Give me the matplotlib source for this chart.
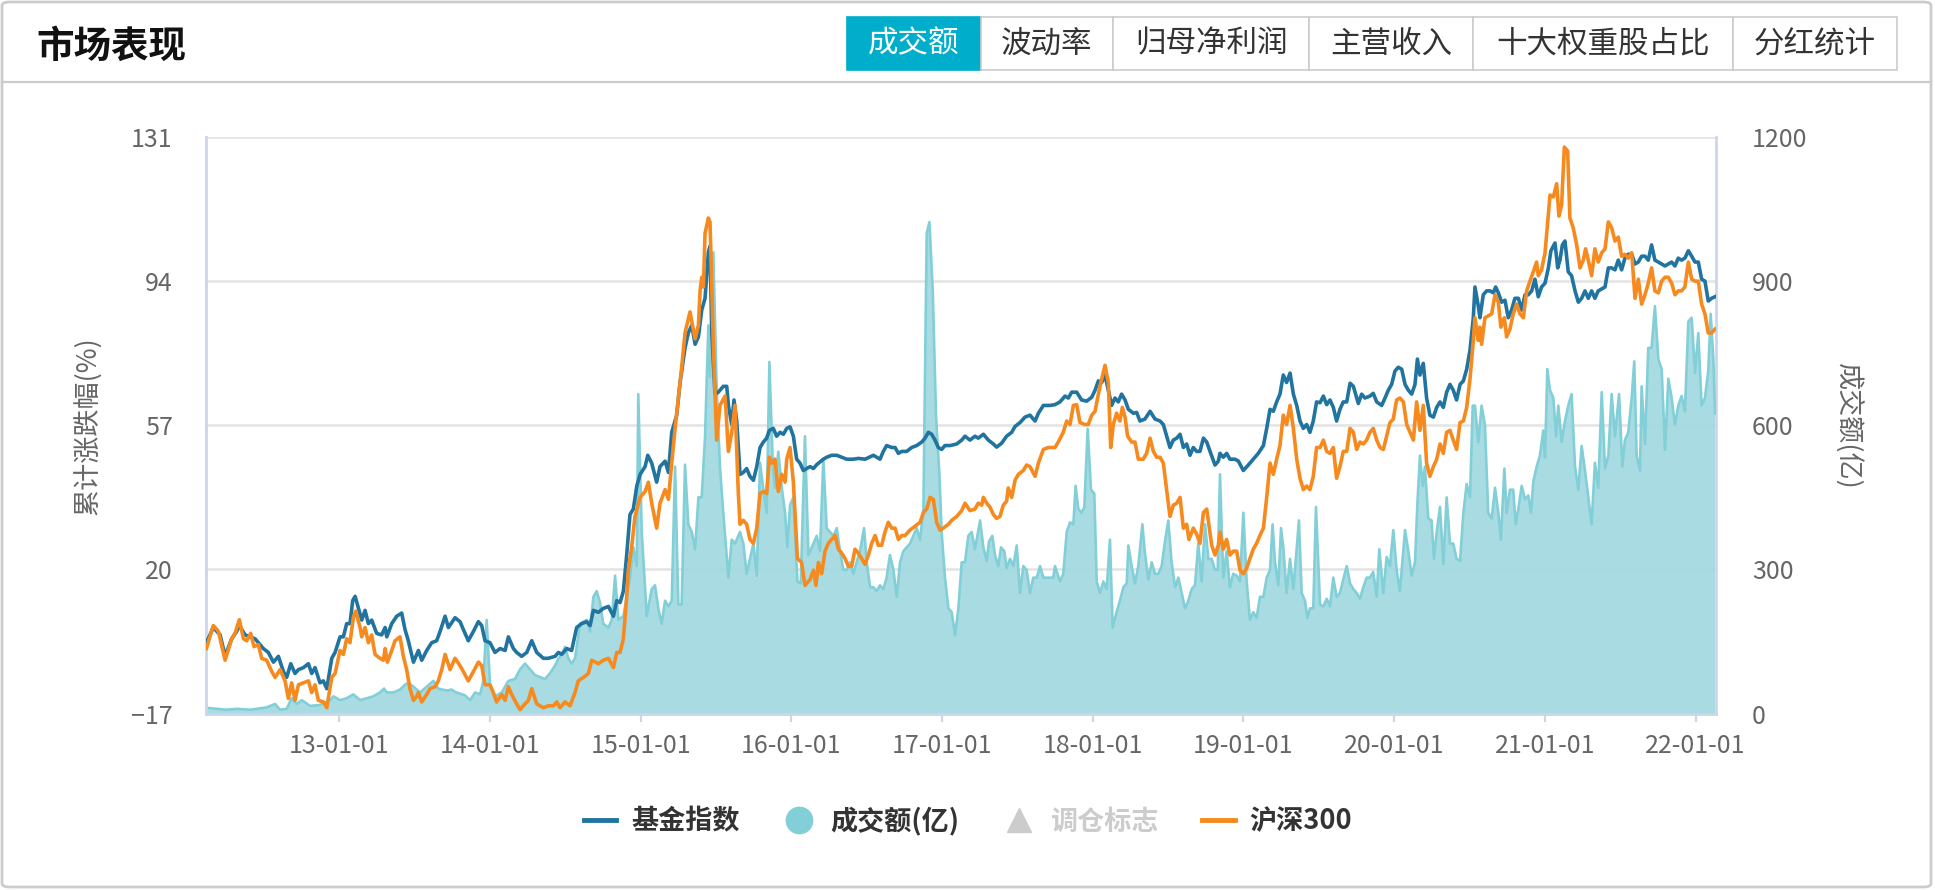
import matplotlib
matplotlib.use("Agg")
import matplotlib.pyplot as plt
from matplotlib.lines import Line2D
from matplotlib.patches import Rectangle, FancyBboxPatch

plt.rcParams['font.family'] = ['Noto Sans CJK SC', 'DejaVu Sans']

# ---------------- data (time in fractional years) ----------------
fund = [
    (2012.118, 1.2), (2012.164, 5.1), (2012.209, 3.2), (2012.242, -2.2), (2012.286, 2.2), (2012.319, 4.1),
    (2012.337, 5.6), (2012.375, 3.2), (2012.408, 2.7), (2012.441, 2.2), (2012.463, 1.2), (2012.496, -0.3),
    (2012.529, -1.3), (2012.563, -3.8), (2012.596, -2.3), (2012.629, -6.2), (2012.651, -7.7), (2012.678, -4.2),
    (2012.706, -6.7), (2012.729, -5.7), (2012.762, -5.2), (2012.795, -4.2), (2012.817, -6.7), (2012.839, -5.2),
    (2012.872, -9.1), (2012.894, -8.6), (2012.917, -10.6), (2012.950, -2.8), (2012.972, -1.3), (2013.005, 2.7),
    (2013.027, 2.7), (2013.049, 6.1), (2013.071, 6.1), (2013.089, 12.0), (2013.105, 13.1), (2013.127, 10.0),
    (2013.149, 7.0), (2013.171, 9.5), (2013.193, 6.1), (2013.215, 7.0), (2013.248, 3.6), (2013.281, 3.2),
    (2013.304, 5.1), (2013.315, 2.7), (2013.348, 6.1), (2013.381, 8.0), (2013.414, 8.8), (2013.436, 4.6),
    (2013.458, 1.7), (2013.492, -3.8), (2013.525, -0.8), (2013.547, -3.3), (2013.580, -0.8), (2013.613, 1.2),
    (2013.646, 1.7), (2013.669, 4.1), (2013.702, 8.0), (2013.724, 5.1),
    (2013.768, 7.6), (2013.801, 6.6), (2013.823, 4.6), (2013.856, 1.7), (2013.890, 4.1), (2013.923, 6.6),
    (2013.945, 5.6), (2013.967, 1.7), (2014.000, 1.2), (2014.033, -1.3), (2014.067, -0.3), (2014.100, -0.8),
    (2014.122, 2.7), (2014.155, -0.3), (2014.177, -1.3), (2014.210, -2.3), (2014.244, -1.3), (2014.277, 1.7),
    (2014.310, -1.3), (2014.354, -2.8), (2014.387, -2.8), (2014.432, -2.3), (2014.454, -1.3), (2014.476, -1.8),
    (2014.509, -0.3), (2014.542, -0.8), (2014.575, 5.1), (2014.609, 6.1), (2014.642, 6.6), (2014.664, 5.6),
    (2014.686, 9.5), (2014.719, 9.0), (2014.752, 10.0), (2014.786, 10.5), (2014.819, 8.0), (2014.841, 12.0),
    (2014.863, 11.5), (2014.885, 14.4), (2014.907, 23.7), (2014.929, 34.1), (2014.951, 35.5), (2014.974, 41.4),
    (2014.996, 44.4), (2015.029, 46.4), (2015.047, 49.3), (2015.073, 47.3), (2015.106, 42.4), (2015.128, 46.4),
    (2015.162, 47.8), (2015.184, 44.9), (2015.206, 55.2), (2015.239, 59.6), (2015.261, 67.9), (2015.294, 76.8),
    (2015.316, 80.7), (2015.339, 82.7), (2015.361, 77.8), (2015.383, 79.7), (2015.405, 86.6), (2015.427, 89.6),
    (2015.449, 101.4), (2015.460, 103.0), (2015.471, 81.7), (2015.493, 65.0), (2015.515, 65.5), (2015.548, 67.0),
    (2015.571, 67.0), (2015.582, 62.1), (2015.604, 57.2), (2015.619, 63.5), (2015.637, 58.2), (2015.659, 44.4),
    (2015.681, 44.9), (2015.703, 45.9), (2015.725, 43.9), (2015.748, 42.9), (2015.770, 46.4), (2015.792, 51.3),
    (2015.814, 52.7), (2015.836, 53.7), (2015.854, 55.7), (2015.880, 56.2), (2015.902, 54.2), (2015.925, 55.2),
    (2015.947, 54.7), (2015.969, 56.2), (2015.991, 56.6), (2016.013, 54.2), (2016.035, 48.3), (2016.057, 47.3),
    (2016.079, 45.4), (2016.101, 45.9), (2016.124, 46.4), (2016.146, 45.9), (2016.168, 46.9), (2016.212, 48.3),
    (2016.234, 48.8), (2016.267, 49.3), (2016.301, 49.3), (2016.334, 48.8), (2016.367, 48.3), (2016.411, 48.3),
    (2016.444, 48.5), (2016.489, 48.3), (2016.544, 49.3), (2016.588, 48.3), (2016.610, 50.3), (2016.632, 51.8),
    (2016.666, 51.3), (2016.688, 51.3), (2016.710, 49.8), (2016.732, 50.3), (2016.765, 50.3), (2016.798, 51.3),
    (2016.831, 51.8), (2016.865, 52.7), (2016.887, 53.7), (2016.909, 55.2), (2016.931, 54.7), (2016.953, 53.2),
    (2016.975, 51.3), (2016.997, 50.8), (2017.019, 51.8), (2017.053, 51.8), (2017.097, 52.2), (2017.130, 53.2),
    (2017.152, 54.2), (2017.185, 53.2), (2017.218, 54.2), (2017.240, 53.7), (2017.274, 54.7), (2017.307, 53.2),
    (2017.340, 52.2), (2017.362, 51.4), (2017.395, 52.4), (2017.428, 54.2), (2017.462, 55.2), (2017.484, 56.7),
    (2017.517, 57.7), (2017.550, 59.1), (2017.583, 59.6), (2017.617, 58.1), (2017.639, 60.1), (2017.672, 62.1),
    (2017.716, 62.1), (2017.749, 62.3), (2017.782, 63.0), (2017.816, 64.5), (2017.838, 64.0), (2017.860, 65.5),
    (2017.893, 65.5), (2017.926, 63.5), (2017.959, 63.2), (2017.993, 64.2), (2018.015, 66.0), (2018.037, 68.4),
    (2018.059, 68.0), (2018.081, 69.9), (2018.103, 66.0), (2018.125, 62.1), (2018.147, 64.0), (2018.169, 63.0),
    (2018.191, 65.0), (2018.214, 63.5), (2018.236, 61.1), (2018.269, 60.1), (2018.291, 60.3), (2018.313, 58.1),
    (2018.346, 58.6), (2018.380, 60.6), (2018.413, 58.6), (2018.446, 58.1), (2018.468, 57.2), (2018.490, 54.2),
    (2018.512, 51.3), (2018.534, 53.2), (2018.557, 53.7), (2018.579, 54.7), (2018.601, 51.3), (2018.623, 52.2),
    (2018.645, 49.3), (2018.667, 51.3), (2018.689, 50.3), (2018.711, 50.3), (2018.734, 53.7), (2018.756, 52.7),
    (2018.778, 50.3), (2018.811, 46.8), (2018.833, 47.8),
    (2018.844, 49.8), (2018.866, 48.8), (2018.888, 49.8), (2018.910, 48.3), (2018.944, 48.3), (2018.966, 47.8),
    (2018.999, 45.4), (2019.032, 46.8), (2019.065, 48.3), (2019.098, 49.8), (2019.132, 51.8), (2019.154, 56.2),
    (2019.176, 61.1), (2019.198, 60.6), (2019.220, 63.0), (2019.242, 65.0), (2019.264, 69.9), (2019.286, 68.0),
    (2019.309, 70.4), (2019.331, 65.0), (2019.353, 62.1), (2019.375, 58.1), (2019.397, 56.2), (2019.419, 57.2),
    (2019.441, 55.2), (2019.463, 58.1), (2019.485, 63.0), (2019.508, 62.8), (2019.530, 64.5), (2019.552, 62.3),
    (2019.574, 63.5), (2019.596, 61.6), (2019.618, 58.1), (2019.640, 61.1), (2019.662, 63.0), (2019.685, 63.0),
    (2019.707, 67.8), (2019.729, 67.0), (2019.762, 62.6), (2019.784, 65.0), (2019.806, 64.0), (2019.839, 64.5),
    (2019.861, 65.2), (2019.884, 63.0), (2019.917, 62.1), (2019.939, 64.0), (2019.961, 66.0), (2019.983, 67.5),
    (2020.005, 70.9), (2020.027, 71.9), (2020.050, 71.4), (2020.072, 67.5), (2020.094, 66.0), (2020.116, 65.0),
    (2020.138, 67.5), (2020.154, 74.0), (2020.171, 69.9), (2020.193, 72.9), (2020.215, 64.0), (2020.237, 59.6),
    (2020.260, 59.1), (2020.282, 61.6), (2020.304, 63.0), (2020.326, 61.6), (2020.348, 65.5), (2020.370, 67.5),
    (2020.392, 66.0), (2020.414, 63.5), (2020.437, 67.5), (2020.459, 68.4), (2020.481, 71.4), (2020.503, 76.3),
    (2020.525, 84.6), (2020.536, 92.5), (2020.558, 87.6), (2020.569, 84.6), (2020.591, 90.5), (2020.613, 91.5),
    (2020.636, 91.5), (2020.658, 91.0), (2020.673, 92.5), (2020.691, 91.0), (2020.713, 88.6), (2020.735, 89.1),
    (2020.757, 84.6), (2020.779, 86.6), (2020.801, 89.6), (2020.824, 89.6), (2020.846, 86.6), (2020.868, 90.5),
    (2020.890, 90.5), (2020.912, 91.5), (2020.934, 94.5), (2020.956, 90.0), (2020.978, 92.5), (2021.001, 93.5),
    (2021.023, 97.4), (2021.040, 101.8), (2021.067, 103.8), (2021.085, 97.4), (2021.100, 99.4), (2021.116, 103.3),
    (2021.133, 104.3), (2021.155, 96.4), (2021.177, 95.4), (2021.200, 91.5), (2021.222, 88.6), (2021.244, 89.6),
    (2021.266, 91.5), (2021.288, 89.6), (2021.310, 91.5), (2021.332, 89.6), (2021.354, 91.5), (2021.377, 92.0),
    (2021.399, 92.5), (2021.421, 97.4), (2021.443, 97.4), (2021.465, 96.9), (2021.487, 99.4), (2021.509, 96.9),
    (2021.531, 99.9), (2021.553, 100.9), (2021.576, 100.9), (2021.598, 98.4), (2021.620, 98.9), (2021.642, 100.4),
    (2021.664, 100.4), (2021.686, 99.4), (2021.708, 103.3), (2021.730, 99.4), (2021.753, 98.9), (2021.775, 98.4),
    (2021.797, 97.9), (2021.819, 98.4), (2021.841, 98.9), (2021.863, 97.9), (2021.885, 99.9), (2021.907, 99.4),
    (2021.929, 99.9), (2021.952, 101.8), (2021.974, 100.4), (2021.996, 98.9), (2022.018, 98.9), (2022.040, 94.5),
    (2022.062, 94.0), (2022.084, 88.9), (2022.106, 89.6), (2022.129, 90.0),
]

hs300 = [
    (2012.118, -0.3), (2012.164, 5.6), (2012.198, 4.1), (2012.242, -3.3), (2012.286, 2.2), (2012.308, 3.6),
    (2012.337, 7.1), (2012.364, 2.2), (2012.386, 1.7), (2012.412, 3.6), (2012.434, 0.2), (2012.463, 0.7),
    (2012.485, -2.8), (2012.518, -3.3), (2012.552, -6.2), (2012.574, -7.7), (2012.607, -5.7), (2012.640, -8.6),
    (2012.662, -13.1), (2012.684, -9.1), (2012.706, -13.6), (2012.729, -9.6), (2012.762, -9.1), (2012.795, -8.6),
    (2012.817, -11.6), (2012.839, -9.6), (2012.861, -13.6), (2012.894, -14.0), (2012.917, -15.5), (2012.950, -7.7),
    (2012.972, -6.7), (2013.005, -0.8), (2013.027, -1.8), (2013.049, 2.2), (2013.071, 1.2), (2013.093, 7.6),
    (2013.109, 9.3), (2013.138, 5.1), (2013.149, 2.7), (2013.171, 5.1), (2013.193, 1.2), (2013.215, 3.2),
    (2013.237, -1.8), (2013.270, -2.8), (2013.293, -3.3), (2013.304, -0.3), (2013.319, -3.8), (2013.348, -0.8),
    (2013.370, 1.7), (2013.403, 2.7), (2013.425, -2.3), (2013.447, -5.7), (2013.469, -10.6), (2013.492, -13.6),
    (2013.514, -12.6), (2013.525, -11.6), (2013.547, -14.0), (2013.580, -12.1), (2013.602, -10.6), (2013.635, -10.1),
    (2013.657, -8.6), (2013.680, -5.7), (2013.702, -1.8), (2013.735, -5.7),
    (2013.768, -2.8), (2013.801, -4.7), (2013.823, -6.2), (2013.856, -8.6), (2013.890, -6.2), (2013.923, -3.8),
    (2013.945, -4.7), (2013.967, -9.6), (2014.000, -9.6), (2014.022, -11.6), (2014.044, -14.0), (2014.078, -12.1),
    (2014.100, -13.6), (2014.122, -10.1), (2014.144, -12.1), (2014.177, -14.5), (2014.199, -16.0), (2014.221, -15.0),
    (2014.255, -13.6), (2014.277, -10.6), (2014.310, -14.5), (2014.354, -15.5), (2014.387, -15.0), (2014.421, -15.0),
    (2014.443, -14.0), (2014.465, -15.5), (2014.498, -14.0), (2014.531, -15.0), (2014.564, -11.6), (2014.586, -8.6),
    (2014.620, -7.7), (2014.653, -6.7), (2014.675, -3.3), (2014.719, -4.2), (2014.752, -3.3), (2014.786, -2.8),
    (2014.819, -5.2), (2014.841, -1.3), (2014.863, -1.3), (2014.885, 2.2), (2014.907, 12.9), (2014.918, 19.8),
    (2014.940, 25.7), (2014.962, 33.6), (2014.996, 38.5), (2015.029, 40.0), (2015.051, 42.4), (2015.073, 37.0),
    (2015.106, 30.6), (2015.128, 37.0), (2015.162, 40.5), (2015.184, 38.0), (2015.206, 47.3), (2015.228, 56.2),
    (2015.250, 64.0), (2015.272, 71.9), (2015.294, 80.7), (2015.327, 86.1), (2015.361, 79.2), (2015.383, 82.7),
    (2015.394, 91.5), (2015.405, 95.0), (2015.416, 92.5), (2015.427, 106.3), (2015.449, 110.2),
    (2015.460, 109.2), (2015.482, 77.8), (2015.504, 53.2), (2015.526, 62.1), (2015.560, 64.5), (2015.582, 50.3),
    (2015.604, 55.2), (2015.626, 62.1), (2015.648, 39.5), (2015.659, 31.6), (2015.681, 32.6), (2015.703, 31.6),
    (2015.725, 27.7), (2015.748, 26.7), (2015.770, 30.6), (2015.792, 39.5), (2015.814, 40.0), (2015.836, 39.5),
    (2015.854, 48.8), (2015.869, 47.3), (2015.891, 48.3), (2015.913, 40.0), (2015.936, 44.4), (2015.958, 42.4),
    (2015.969, 48.3), (2015.991, 51.3), (2016.013, 42.4), (2016.040, 22.8), (2016.068, 21.8), (2016.090, 15.9),
    (2016.124, 17.4), (2016.146, 19.8), (2016.163, 15.9), (2016.179, 21.8), (2016.201, 18.9), (2016.223, 24.7),
    (2016.245, 26.7), (2016.267, 27.7), (2016.290, 28.7), (2016.312, 25.2), (2016.334, 24.2), (2016.356, 22.8),
    (2016.378, 20.8), (2016.400, 20.8), (2016.422, 25.2), (2016.444, 24.2), (2016.489, 21.3), (2016.511, 23.7),
    (2016.533, 26.7), (2016.555, 28.7), (2016.577, 26.2), (2016.599, 26.2), (2016.621, 29.6), (2016.643, 32.1),
    (2016.666, 30.6), (2016.688, 30.6), (2016.710, 27.7), (2016.732, 28.7), (2016.754, 28.7), (2016.787, 30.1),
    (2016.820, 31.1), (2016.854, 32.1), (2016.876, 34.6), (2016.898, 35.5), (2016.920, 38.5), (2016.942, 38.0),
    (2016.964, 32.1), (2016.986, 30.1), (2017.008, 30.6), (2017.042, 31.6), (2017.064, 32.6), (2017.097, 33.6),
    (2017.130, 35.1),
    (2017.152, 37.0), (2017.185, 35.1), (2017.218, 35.5), (2017.240, 37.0), (2017.263, 36.5), (2017.274, 38.5),
    (2017.296, 37.0), (2017.318, 36.0), (2017.340, 34.1), (2017.362, 33.1), (2017.384, 33.6), (2017.406, 36.5),
    (2017.428, 37.5), (2017.439, 40.9), (2017.462, 38.5), (2017.484, 42.9), (2017.506, 44.4), (2017.539, 45.4),
    (2017.561, 46.8), (2017.583, 46.4), (2017.617, 43.9), (2017.639, 47.3), (2017.672, 50.8), (2017.705, 51.3),
    (2017.749, 51.3), (2017.771, 52.7), (2017.804, 55.2), (2017.827, 58.1), (2017.849, 57.2), (2017.871, 62.1),
    (2017.893, 62.3), (2017.915, 57.7), (2017.948, 57.2), (2017.970, 57.2), (2017.993, 59.6), (2018.015, 60.6),
    (2018.037, 65.0), (2018.059, 68.9), (2018.081, 72.4), (2018.103, 68.0), (2018.119, 51.3), (2018.136, 57.2),
    (2018.158, 60.1), (2018.180, 58.1), (2018.196, 61.6), (2018.214, 59.1), (2018.231, 54.2), (2018.258, 52.7),
    (2018.280, 52.7), (2018.302, 48.3), (2018.335, 48.3), (2018.357, 49.8), (2018.380, 53.7), (2018.402, 50.3),
    (2018.424, 48.8), (2018.446, 48.8), (2018.468, 47.3), (2018.490, 40.5), (2018.512, 33.6), (2018.534, 36.5),
    (2018.557, 37.0), (2018.579, 38.5), (2018.601, 30.6), (2018.623, 31.6), (2018.638, 27.7), (2018.667, 30.6),
    (2018.689, 29.1), (2018.711, 26.7), (2018.734, 34.6), (2018.756, 35.5), (2018.789, 26.2), (2018.811, 23.7),
    (2018.833, 26.2),
    (2018.844, 29.6), (2018.866, 25.2), (2018.888, 27.7), (2018.910, 23.7), (2018.932, 24.7), (2018.955, 24.7),
    (2018.977, 19.8), (2018.999, 18.9), (2019.021, 20.3), (2019.043, 22.8), (2019.065, 25.2), (2019.087, 26.7),
    (2019.109, 28.7), (2019.132, 30.6), (2019.154, 38.5), (2019.176, 47.3), (2019.198, 44.4), (2019.220, 48.3),
    (2019.242, 51.8), (2019.264, 59.6), (2019.286, 57.2), (2019.309, 62.1), (2019.331, 56.2), (2019.353, 48.3),
    (2019.375, 43.4), (2019.397, 40.5), (2019.419, 41.4), (2019.441, 40.5), (2019.463, 43.9), (2019.485, 51.3),
    (2019.508, 51.3), (2019.530, 53.2), (2019.552, 50.3), (2019.574, 49.8), (2019.596, 51.3), (2019.618, 43.4),
    (2019.640, 46.4), (2019.662, 50.3), (2019.685, 50.3), (2019.707, 56.2), (2019.729, 55.2), (2019.751, 50.8),
    (2019.773, 52.7), (2019.795, 52.2), (2019.817, 53.2), (2019.839, 55.2), (2019.861, 56.2), (2019.884, 53.2),
    (2019.906, 51.3), (2019.928, 50.8), (2019.950, 54.2), (2019.972, 57.7), (2019.994, 58.6), (2020.016, 63.5),
    (2020.038, 64.0), (2020.061, 63.0), (2020.083, 57.2), (2020.105, 55.2), (2020.127, 53.2), (2020.149, 63.0),
    (2020.171, 55.7), (2020.193, 62.1), (2020.215, 47.3), (2020.237, 43.9), (2020.260, 46.4), (2020.282, 48.3),
    (2020.304, 52.2), (2020.326, 49.8), (2020.348, 55.2), (2020.370, 55.7), (2020.392, 53.2), (2020.414, 50.8),
    (2020.437, 57.7), (2020.459, 58.1), (2020.481, 61.6), (2020.503, 68.9), (2020.525, 78.8),
    (2020.536, 84.6), (2020.558, 78.8), (2020.569, 82.2), (2020.580, 77.8), (2020.602, 84.6), (2020.624, 85.1),
    (2020.647, 85.6), (2020.669, 90.5), (2020.691, 88.6), (2020.708, 82.2), (2020.731, 84.6), (2020.746, 79.7),
    (2020.768, 81.7), (2020.790, 85.6), (2020.812, 88.1), (2020.835, 85.6), (2020.857, 84.6), (2020.879, 91.5),
    (2020.901, 94.0), (2020.923, 96.4), (2020.945, 98.9), (2020.956, 95.4), (2020.978, 96.9), (2021.001, 101.3),
    (2021.023, 111.2), (2021.034, 116.1), (2021.056, 115.6), (2021.078, 119.0), (2021.093, 110.7), (2021.111, 113.6),
    (2021.129, 128.4), (2021.151, 127.4), (2021.166, 110.2), (2021.188, 107.7), (2021.211, 103.3), (2021.233, 97.4),
    (2021.255, 99.4), (2021.270, 102.3), (2021.288, 99.4), (2021.310, 95.4), (2021.332, 102.3), (2021.354, 98.9),
    (2021.377, 101.3), (2021.399, 102.3), (2021.421, 109.2), (2021.443, 107.7), (2021.465, 104.3), (2021.487, 105.3),
    (2021.509, 100.4), (2021.531, 100.9), (2021.553, 99.9), (2021.576, 101.3), (2021.598, 89.6), (2021.620, 94.5),
    (2021.642, 88.1), (2021.664, 90.5), (2021.686, 93.5), (2021.708, 97.4), (2021.730, 91.5), (2021.753, 91.0),
    (2021.775, 94.0), (2021.797, 95.0), (2021.819, 95.0), (2021.841, 93.5), (2021.863, 90.5), (2021.885, 91.5),
    (2021.907, 91.5), (2021.929, 92.5), (2021.952, 98.9), (2021.974, 94.5), (2021.996, 94.0), (2022.018, 94.0),
    (2022.040, 88.1), (2022.062, 85.6), (2022.084, 80.7), (2022.106, 80.7), (2022.129, 81.7),
]

volume = [
    (2012.118, 12), (2012.187, 10), (2012.253, 8), (2012.319, 10), (2012.408, 8), (2012.518, 13), (2012.574, 20),
    (2012.607, 8), (2012.651, 10), (2012.684, 32), (2012.717, 20), (2012.751, 28), (2012.806, 16), (2012.872, 18),
    (2012.939, 28), (2012.961, 36), (2013.005, 28), (2013.049, 32), (2013.093, 40), (2013.138, 28), (2013.182, 32),
    (2013.226, 36), (2013.270, 44), (2013.297, 52), (2013.315, 44), (2013.359, 44), (2013.403, 50), (2013.436, 60),
    (2013.458, 64), (2013.492, 56), (2013.536, 44), (2013.580, 56), (2013.624, 68), (2013.657, 52), (2013.713, 48),
    (2013.746, 50), (2013.768, 45), (2013.834, 38), (2013.868, 28), (2013.901, 44), (2013.934, 40), (2013.956, 68),
    (2013.978, 195), (2014.000, 60), (2014.033, 36), (2014.078, 44), (2014.122, 68), (2014.166, 72), (2014.199, 92),
    (2014.232, 104), (2014.266, 92), (2014.299, 80), (2014.332, 76), (2014.365, 72), (2014.398, 84), (2014.432, 100),
    (2014.454, 115), (2014.476, 123), (2014.498, 139), (2014.520, 115), (2014.542, 104), (2014.564, 115),
    (2014.597, 187), (2014.642, 195), (2014.664, 171), (2014.686, 243), (2014.708, 255), (2014.730, 231),
    (2014.752, 187), (2014.786, 179), (2014.808, 195), (2014.830, 287), (2014.852, 195), (2014.885, 203),
    (2014.907, 243), (2014.929, 283), (2014.951, 346), (2014.974, 307), (2014.984, 665), (2015.007, 378),
    (2015.040, 203), (2015.073, 259), (2015.095, 267), (2015.117, 219), (2015.139, 187), (2015.162, 235),
    (2015.184, 223), (2015.206, 235), (2015.228, 514), (2015.250, 227), (2015.272, 227), (2015.294, 518),
    (2015.316, 394), (2015.339, 378), (2015.361, 342), (2015.383, 450), (2015.405, 450), (2015.427, 577),
    (2015.449, 808), (2015.460, 700), (2015.482, 960), (2015.504, 680), (2015.526, 514), (2015.548, 418),
    (2015.582, 283), (2015.604, 362), (2015.626, 354), (2015.659, 378), (2015.681, 354), (2015.703, 291),
    (2015.725, 322), (2015.748, 354), (2015.770, 287), (2015.792, 522), (2015.814, 466), (2015.836, 418),
    (2015.854, 732), (2015.876, 522), (2015.891, 470), (2015.913, 545), (2015.936, 470), (2015.958, 418),
    (2015.973, 346), (2015.991, 434), (2016.013, 450), (2016.040, 275), (2016.062, 271), (2016.090, 577),
    (2016.113, 330), (2016.146, 354), (2016.168, 370), (2016.190, 338), (2016.212, 530), (2016.234, 386),
    (2016.256, 378), (2016.279, 370), (2016.301, 386), (2016.323, 338), (2016.345, 299), (2016.367, 299),
    (2016.389, 315), (2016.411, 291), (2016.433, 315), (2016.455, 338), (2016.482, 386), (2016.500, 315),
    (2016.522, 263), (2016.544, 263), (2016.566, 255), (2016.588, 267), (2016.610, 259), (2016.632, 283),
    (2016.654, 330), (2016.677, 299), (2016.699, 243), (2016.721, 315), (2016.743, 338), (2016.765, 346),
    (2016.787, 354), (2016.809, 370), (2016.831, 386), (2016.854, 362), (2016.876, 426), (2016.898, 1000),
    (2016.916, 1023), (2016.938, 880), (2016.960, 617), (2016.982, 498), (2016.997, 378), (2017.019, 283),
    (2017.042, 219), (2017.064, 211), (2017.086, 163), (2017.108, 219), (2017.130, 315),
    (2017.152, 315), (2017.174, 370), (2017.196, 378), (2017.218, 342), (2017.252, 402), (2017.274, 346),
    (2017.296, 318), (2017.311, 358), (2017.333, 370), (2017.351, 330), (2017.373, 307), (2017.391, 346),
    (2017.413, 338), (2017.428, 303), (2017.451, 322), (2017.473, 307), (2017.495, 350), (2017.517, 251),
    (2017.539, 307), (2017.561, 299), (2017.583, 251), (2017.605, 283), (2017.628, 283), (2017.650, 307),
    (2017.672, 283), (2017.705, 283), (2017.738, 283), (2017.749, 307), (2017.782, 275), (2017.804, 291),
    (2017.827, 378), (2017.849, 398), (2017.871, 394), (2017.886, 474), (2017.904, 426), (2017.926, 418),
    (2017.944, 430), (2017.966, 593), (2017.988, 466), (2018.010, 458), (2018.026, 275), (2018.048, 251),
    (2018.070, 275), (2018.092, 259), (2018.114, 362), (2018.132, 179), (2018.158, 211), (2018.180, 235),
    (2018.203, 263), (2018.225, 271), (2018.236, 350), (2018.258, 307), (2018.280, 271), (2018.302, 307),
    (2018.329, 394), (2018.346, 334), (2018.369, 279), (2018.391, 315), (2018.413, 291), (2018.435, 291),
    (2018.457, 307), (2018.479, 358), (2018.501, 402), (2018.523, 315), (2018.546, 263), (2018.568, 283),
    (2018.590, 251), (2018.612, 219), (2018.634, 235), (2018.656, 259), (2018.678, 267), (2018.700, 354),
    (2018.722, 275), (2018.745, 394), (2018.767, 322), (2018.789, 322), (2018.811, 299), (2018.829, 299),
    (2018.844, 498), (2018.866, 283), (2018.888, 338), (2018.910, 263), (2018.932, 291), (2018.955, 287),
    (2018.977, 275), (2018.999, 418), (2019.021, 275), (2019.043, 195), (2019.065, 211), (2019.087, 199),
    (2019.109, 243), (2019.132, 243), (2019.154, 283), (2019.176, 299), (2019.193, 394), (2019.209, 315),
    (2019.231, 267), (2019.249, 386), (2019.264, 346), (2019.286, 251), (2019.309, 322), (2019.331, 259),
    (2019.368, 402), (2019.386, 251), (2019.408, 235), (2019.424, 199), (2019.441, 219), (2019.463, 219),
    (2019.481, 430), (2019.508, 227), (2019.530, 223), (2019.552, 239), (2019.574, 223), (2019.596, 283),
    (2019.618, 243), (2019.640, 251), (2019.662, 279), (2019.685, 307), (2019.707, 271), (2019.729, 259),
    (2019.751, 251), (2019.773, 239), (2019.795, 263), (2019.817, 283), (2019.839, 283), (2019.861, 295),
    (2019.884, 243), (2019.901, 342), (2019.928, 251), (2019.950, 326), (2019.972, 307), (2019.994, 382),
    (2020.016, 299), (2020.038, 255), (2020.072, 382), (2020.094, 338), (2020.116, 287), (2020.138, 315),
    (2020.154, 438), (2020.171, 537), (2020.189, 474), (2020.204, 514), (2020.226, 406), (2020.248, 402),
    (2020.264, 322), (2020.282, 378), (2020.304, 430), (2020.326, 311), (2020.348, 450), (2020.370, 354),
    (2020.392, 354), (2020.414, 322), (2020.437, 318), (2020.459, 418), (2020.481, 478), (2020.503, 450),
    (2020.521, 641), (2020.536, 641), (2020.558, 565), (2020.580, 641), (2020.602, 601), (2020.624, 418),
    (2020.647, 406), (2020.669, 470), (2020.691, 418), (2020.708, 362), (2020.731, 510), (2020.746, 418),
    (2020.768, 466), (2020.790, 466), (2020.806, 394), (2020.824, 426), (2020.846, 474), (2020.868, 446),
    (2020.890, 454), (2020.908, 418), (2020.923, 482), (2020.945, 514), (2020.967, 537), (2020.989, 589),
    (2021.001, 533), (2021.016, 717), (2021.034, 673), (2021.056, 657), (2021.074, 577), (2021.089, 641),
    (2021.111, 565), (2021.133, 609), (2021.155, 641), (2021.177, 665), (2021.200, 514), (2021.222, 466),
    (2021.244, 557), (2021.266, 506), (2021.288, 450), (2021.310, 394), (2021.332, 522), (2021.354, 470),
    (2021.377, 669), (2021.399, 510), (2021.421, 537), (2021.443, 665), (2021.465, 577), (2021.492, 665),
    (2021.514, 514), (2021.531, 569), (2021.553, 585), (2021.576, 657), (2021.593, 733), (2021.609, 537),
    (2021.631, 506), (2021.642, 681), (2021.664, 561), (2021.686, 761), (2021.708, 761), (2021.730, 848),
    (2021.753, 737), (2021.775, 717), (2021.797, 549), (2021.819, 697), (2021.841, 657), (2021.863, 601),
    (2021.885, 641), (2021.907, 661), (2021.929, 629), (2021.952, 816), (2021.974, 824), (2021.996, 709),
    (2022.018, 792), (2022.040, 641), (2022.062, 657), (2022.084, 713), (2022.100, 832), (2022.118, 737),
    (2022.129, 625),
]

year_ticks = [2013, 2014, 2015, 2016, 2017, 2018, 2019, 2020, 2021, 2022]
year_labels = ['13-01-01', '14-01-01', '15-01-01', '16-01-01', '17-01-01',
               '18-01-01', '19-01-01', '20-01-01', '21-01-01', '22-01-01']
left_ticks = [-17, 20, 57, 94, 131]
left_labels = ['\u221217', '20', '57', '94', '131']
right_ticks = [0, 300, 600, 900, 1200]
tab_names = ['成交额', '波动率', '归母净利润', '主营收入', '十大权重股占比', '分红统计']
legend_names = ['基金指数', '成交额(亿)', '调仓标志', '沪深300']

fund_t, fund_v = zip(*fund)
hs_t, hs_v = zip(*hs300)
vol_t, vol_v = zip(*volume)

# ---------------- styling ----------------
BLUE = '#21749f'
ORANGE = '#f68a1e'
VOL_LINE = '#82cfd8'
VOL_FILL = '#a2d9e0'
AXIS_C = '#ccd6eb'
GRID_C = '#e6e6e6'
TXT = '#666666'

W, H = 1935, 890
fig = plt.figure(figsize=(W / 100, H / 100), dpi=100)
fig.patch.set_facecolor('white')


def fx(px):
    return px / W


def fy(py):
    return 1 - py / H


# card border
fig.patches.append(FancyBboxPatch((fx(2), fy(887)), fx(1929), (885) / H,
                                  boxstyle='round,pad=0,rounding_size=0.004',
                                  transform=fig.transFigure, fill=False,
                                  edgecolor='#cccccc', lw=2))
# header separator
fig.add_artist(Line2D([fx(2), fx(1931)], [fy(82), fy(82)], color='#cccccc', lw=1.6,
                      transform=fig.transFigure))
# title
fig.text(fx(36), fy(46), '市场表现', fontsize=27, fontweight='bold', color='#111111',
         ha='left', va='center')

# tabs
tab_edges = [847, 981, 1113, 1309, 1473, 1733, 1897]
for i, name in enumerate(tab_names):
    x0, x1 = tab_edges[i], tab_edges[i + 1]
    active = (i == 0)
    fig.patches.append(Rectangle((fx(x0), fy(70)), fx(x1 - x0), 53 / H,
                                 transform=fig.transFigure,
                                 facecolor='#00aecb' if active else 'white',
                                 edgecolor='#00aecb' if active else '#cccccc', lw=1.2))
    fig.text(fx((x0 + x1) / 2), fy(44), name, fontsize=22,
             color='white' if active else '#333333', ha='center', va='center')

# ---------------- axes ----------------
ax = fig.add_axes([fx(206), fy(713.6), fx(1716) - fx(206), (713.6 - 137) / H])
ax2 = ax.twinx()
ax.set_zorder(3)
ax2.set_zorder(2)
ax.patch.set_visible(False)

ax2.fill_between(vol_t, vol_v, 0, color=VOL_FILL, lw=0, zorder=2, alpha=0.92)
ax2.plot(vol_t, vol_v, color=VOL_LINE, lw=1.9, zorder=3)
ax2.set_ylim(0, 1200)
ax2.set_yticks(right_ticks)
ax2.set_yticklabels([str(v) for v in right_ticks])
ax2.set_axisbelow(True)
ax2.grid(axis='y', color=GRID_C, lw=2)

ax.plot(fund_t, fund_v, color=BLUE, lw=2.6, zorder=4)
ax.plot(hs_t, hs_v, color=ORANGE, lw=2.6, zorder=5)

ax.set_xlim(2012.1155, 2022.1354)
ax.set_ylim(-17, 131)
ax.set_yticks(left_ticks)
ax.set_yticklabels(left_labels)
ax.set_xticks(year_ticks)
ax.set_xticklabels(year_labels)

for s in ['top', 'right']:
    ax.spines[s].set_visible(False)
for s in ['left', 'bottom']:
    ax.spines[s].set_color(AXIS_C)
    ax.spines[s].set_linewidth(2)
for s in ['top', 'left', 'bottom']:
    ax2.spines[s].set_visible(False)
ax2.spines['right'].set_color(AXIS_C)
ax2.spines['right'].set_linewidth(2)

ax.tick_params(axis='x', direction='out', length=6, width=1.6, color=AXIS_C,
               labelsize=18, labelcolor=TXT, pad=8)
ax.tick_params(axis='y', length=0, labelsize=18, labelcolor=TXT, pad=24)
ax2.tick_params(axis='y', length=0, labelsize=18, labelcolor=TXT, pad=26)

fig.text(fx(88), fy(426), '累计涨跌幅(%)', rotation=90, fontsize=19.5, color=TXT,
         ha='center', va='center')
fig.text(fx(1847), fy(426), '成交额(亿)', rotation=270, fontsize=19.5, color=TXT,
         ha='center', va='center')

# ---------------- legend ----------------
handles = [
    Line2D([], [], color=BLUE, lw=3.5),
    Line2D([], [], marker='o', ls='', markersize=19, color=VOL_LINE),
    Line2D([], [], marker='^', ls='', markersize=17, color='#cccccc'),
    Line2D([], [], color=ORANGE, lw=3.5),
]
leg = fig.legend(handles, legend_names, loc='center', bbox_to_anchor=(fx(968), fy(821)),
                 ncol=4, frameon=False, prop={'size': 19.5, 'weight': 'bold'},
                 handlelength=1.2, handletextpad=0.55, columnspacing=1.6)
for txt, c in zip(leg.get_texts(), ['#333333', '#333333', '#cccccc', '#333333']):
    txt.set_color(c)

fig.savefig('out.png', dpi=100, facecolor='white')
